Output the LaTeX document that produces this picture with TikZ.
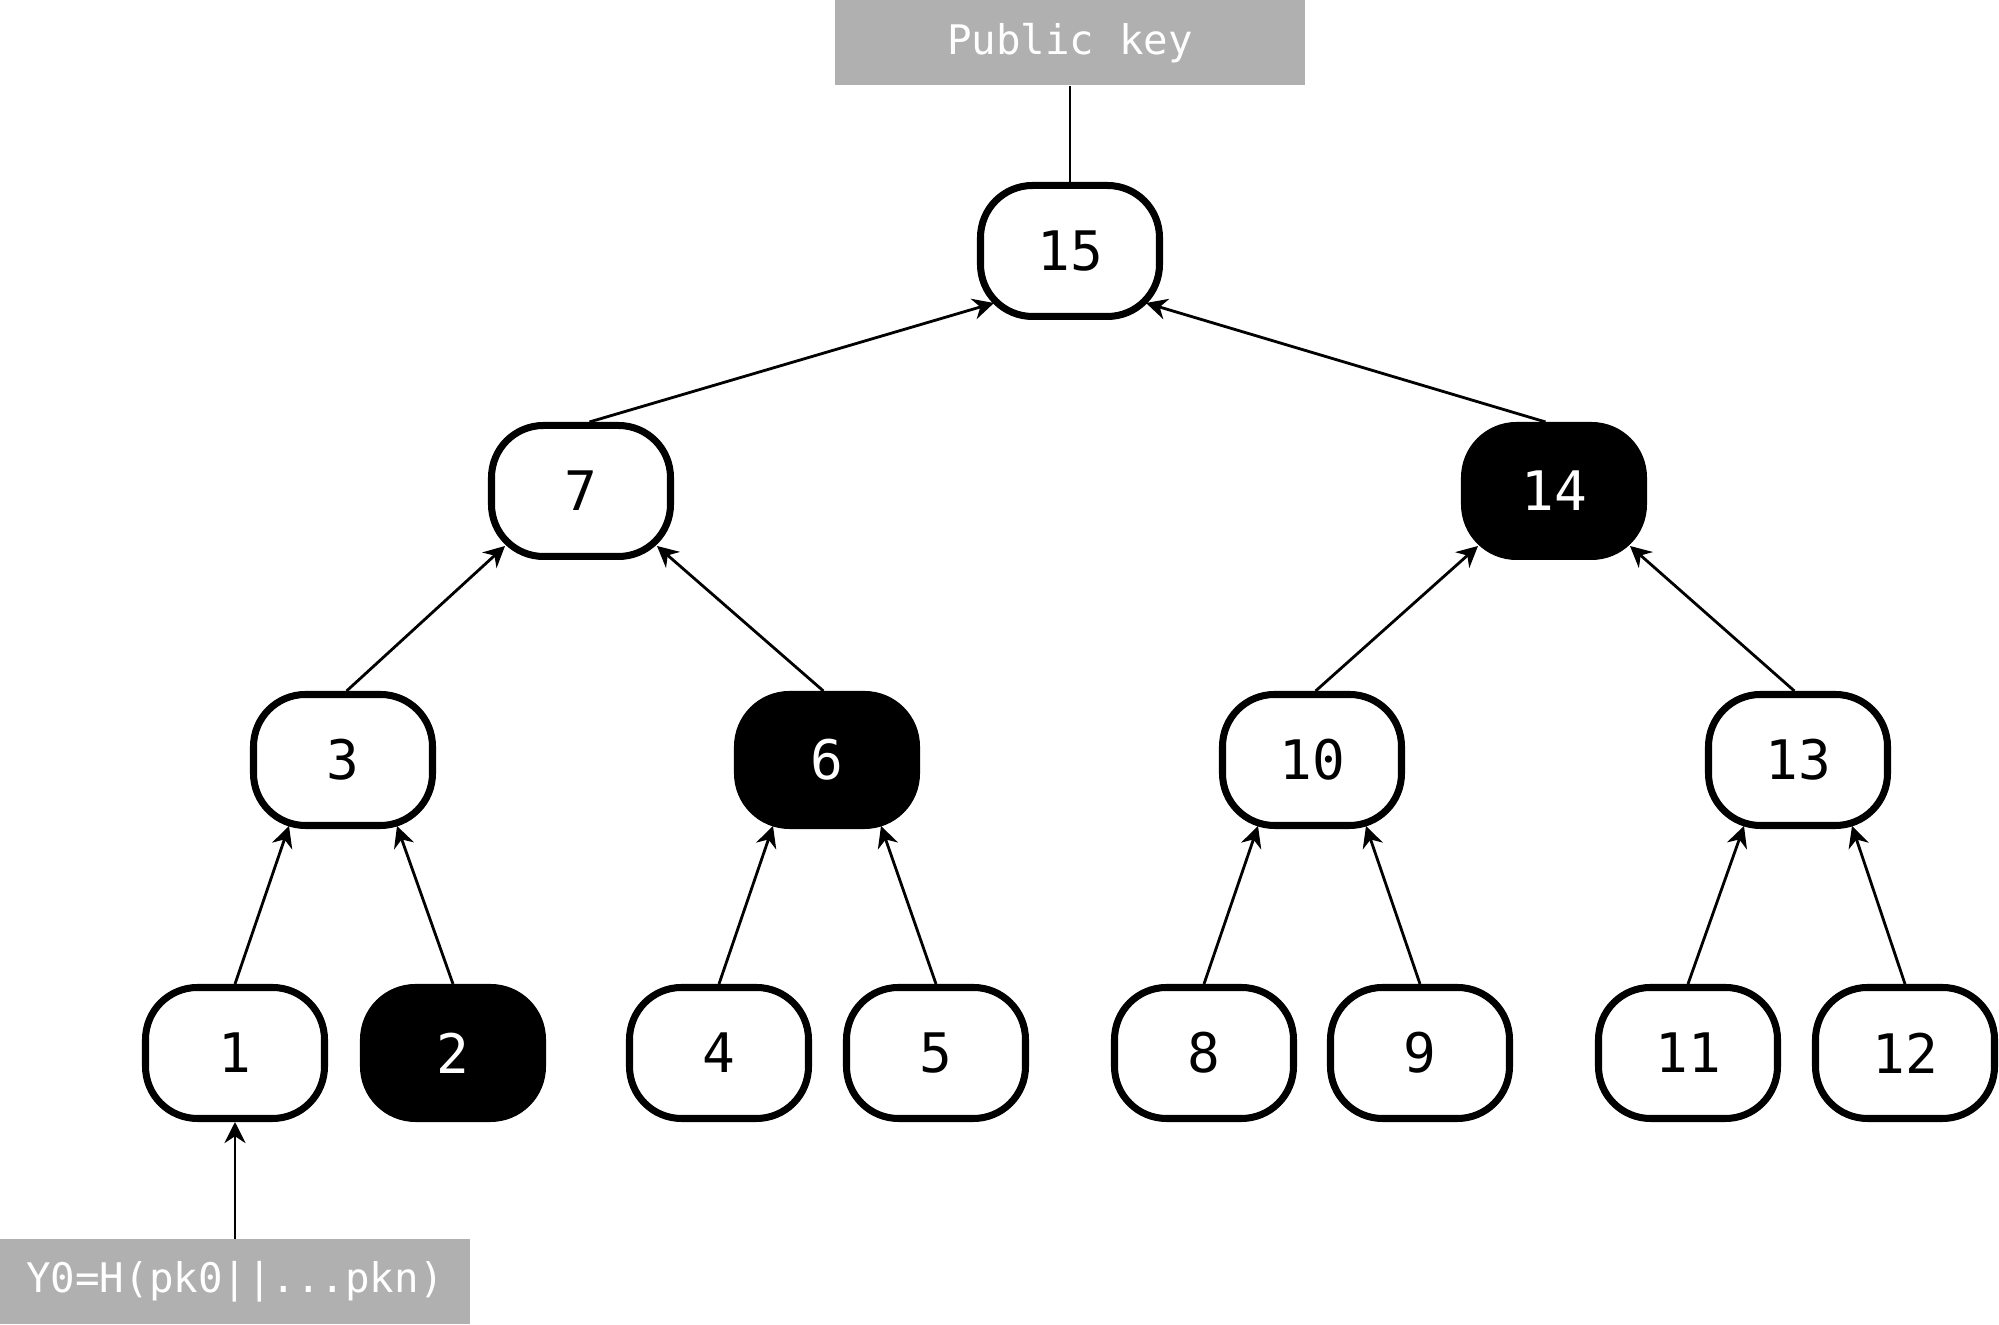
\documentclass[tikz,border=0pt]{standalone}
\usepackage{fontspec}
\setmonofont{DejaVu Sans Mono}
\usetikzlibrary{positioning,
        arrows.meta,
        calc}
\definecolor{keygray}{RGB}{176,176,176}

\begin{document}
\begin{tikzpicture}[
    hnode/.style={rectangle,rounded corners=0.52cm,draw,line width=2pt,minimum width=1.79cm,minimum height=1.31cm,fill=white,font=\ttfamily\fontsize{15.5}{18}\selectfont},
    hblack/.style={hnode,fill=black,text=white},
    gbox/.style={rectangle,fill=keygray,text=white,minimum width=4.7cm,minimum height=0.85cm,font=\ttfamily\fontsize{11.6}{14}\selectfont},
    up/.style={-{Stealth[length=6pt,width=6pt]},line width=0.8pt}]
            \useasboundingbox (0,0) rectangle (19.99,13.25);

            \node [gbox] (pk) at (10.70,12.82) {Public key};
            \node [gbox] (y0) at (2.35,0.43) {Y0=H(pk0||...pkn)};

            \node [hnode] (n15) at (10.70,10.74) {15};
            \node [hnode] (n7) at (5.81,8.34) {7};
            \node [hblack] (n14) at (15.54,8.34) {14};

            \node [hnode] (n3) at (3.43,5.65) {3};
            \node [hblack] (n6) at (8.27,5.65) {6};
            \node [hnode] (n10) at (13.12,5.65) {10};
            \node [hnode] (n13) at (17.98,5.65) {13};

            \node [hnode] (n1) at (2.35,2.72) {1};
            \node [hblack] (n2) at (4.53,2.72) {2};
            \node [hnode] (n4) at (7.19,2.72) {4};
            \node [hnode] (n5) at (9.36,2.72) {5};
            \node [hnode] (n8) at (12.04,2.72) {8};
            \node [hnode] (n9) at (14.20,2.72) {9};
            \node [hnode] (n11) at (16.88,2.72) {11};
            \node [hnode] (n12) at (19.05,2.72) {12};

            \draw [line width=0.8pt] (pk.south) -- (n15.north);
            \draw [up] (n7.83) -- ($(n15)+(-0.76,-0.52)$);
            \draw [up] (n14.97) -- ($(n15)+(0.76,-0.52)$);

            \draw [up] (n3.87) -- ($(n7)+(-0.76,-0.55)$);
            \draw [up] (n6.93) -- ($(n7)+(0.76,-0.55)$);
            \draw [up] (n10.87) -- ($(n14)+(-0.76,-0.55)$);
            \draw [up] (n13.93) -- ($(n14)+(0.76,-0.55)$);

            \draw [up] (n1.north) -- ($(n3)+(-0.54,-0.66)$);
            \draw [up] (n2.north) -- ($(n3)+(0.54,-0.66)$);
            \draw [up] (n4.north) -- ($(n6)+(-0.54,-0.66)$);
            \draw [up] (n5.north) -- ($(n6)+(0.54,-0.66)$);
            \draw [up] (n8.north) -- ($(n10)+(-0.54,-0.66)$);
            \draw [up] (n9.north) -- ($(n10)+(0.54,-0.66)$);
            \draw [up] (n11.north) -- ($(n13)+(-0.54,-0.66)$);
            \draw [up] (n12.north) -- ($(n13)+(0.54,-0.66)$);

            \draw [up] (y0.north) -- (n1.south);
        \end{tikzpicture}
\end{document}
